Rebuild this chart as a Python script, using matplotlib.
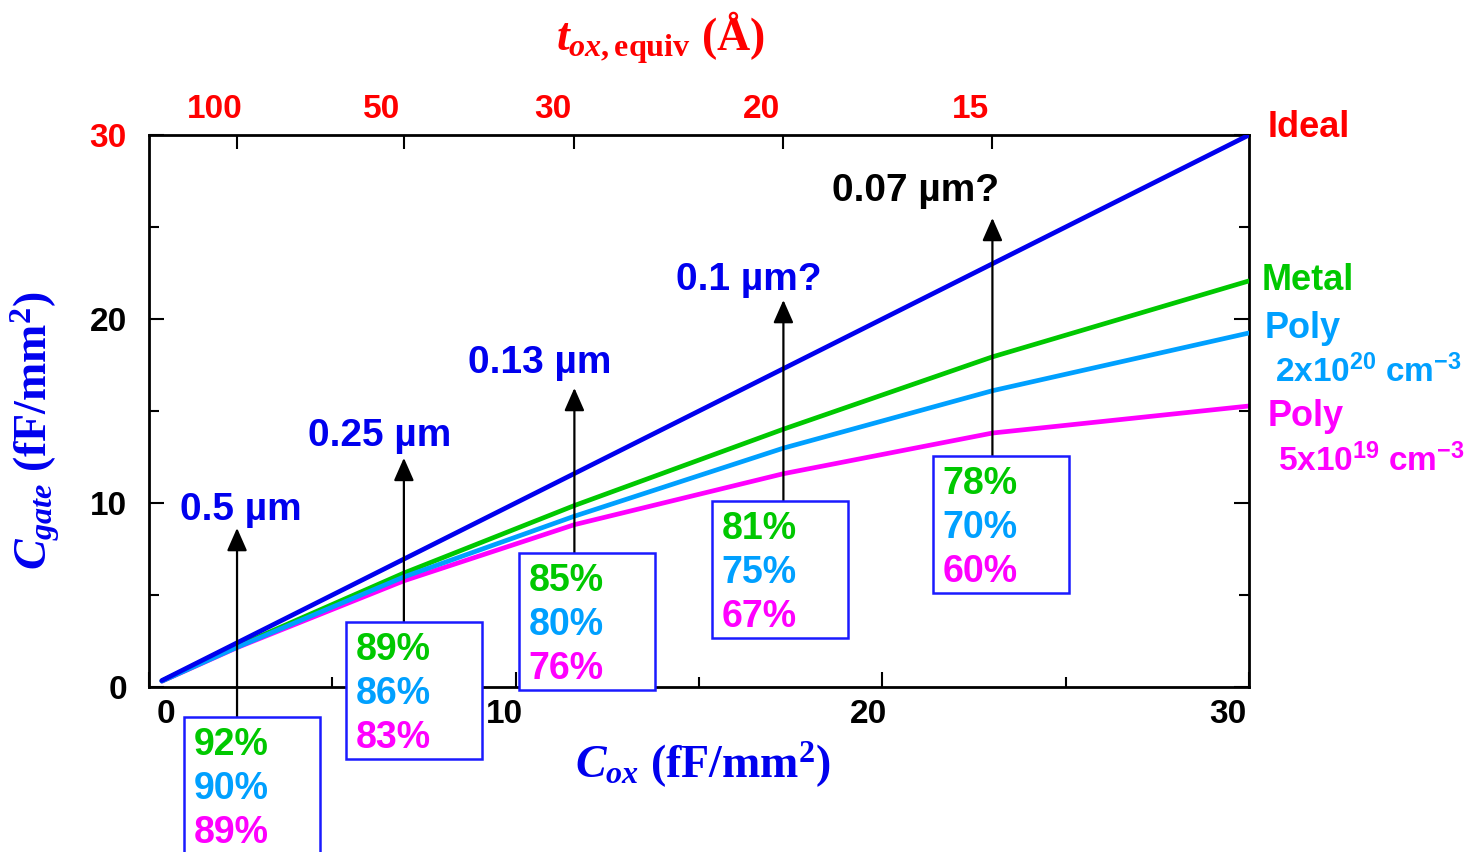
import matplotlib
matplotlib.use("Agg")
import matplotlib.pyplot as plt
from matplotlib.patches import Rectangle
from matplotlib.transforms import ScaledTranslation

plt.rcParams["font.family"] = ["Liberation Sans", "DejaVu Sans"]
plt.rcParams["font.weight"] = "bold"
plt.rcParams["mathtext.fontset"] = "custom"
plt.rcParams["mathtext.rm"] = "Liberation Serif:bold"
plt.rcParams["mathtext.it"] = "Liberation Serif:italic:bold"
plt.rcParams["mathtext.bf"] = "Liberation Serif:bold"
plt.rcParams["mathtext.sf"] = "Liberation Sans:bold"

# --- data ---
c_ox = [0.35, 2.4, 6.95, 11.6, 17.3, 23.0, 30.0]          # fF/mm^2
c_ideal = [0.35, 2.4, 6.95, 11.6, 17.3, 23.0, 30.0]
c_metal = [0.33, 2.21, 6.19, 9.86, 14.01, 17.94, 22.07]
c_poly_hi = [0.32, 2.16, 5.98, 9.28, 12.98, 16.10, 19.24]  # 2x10^20 cm^-3
c_poly_lo = [0.31, 2.14, 5.77, 8.82, 11.59, 13.80, 15.27]  # 5x10^19 cm^-3

node_labels = ["0.5 µm", "0.25 µm", "0.13 µm", "0.1 µm?", "0.07 µm?"]
node_cox = [2.4, 6.95, 11.6, 17.3, 23.0]
pct_metal = [92, 89, 85, 81, 78]
pct_poly_hi = [90, 86, 80, 75, 70]
pct_poly_lo = [89, 83, 76, 67, 60]

tox_labels = ["100", "50", "30", "20", "15"]   # Angstrom, at node_cox

# --- layout (data units) ---
node_text_xy = [(0.85, 9.62), (4.34, 13.64), (8.70, 17.6), (14.37, 22.1), (18.63, 26.96)]
node_text_col = ["#0000ee", "#0000ee", "#0000ee", "#0000ee", "black"]
arrow_tip_y = [8.64, 12.45, 16.25, 21.03, 25.49]
box_left = [0.95, 5.37, 10.09, 15.35, 21.38]
box_top = [-1.63, 3.53, 7.28, 10.11, 12.55]
BOX_W, BOX_H = 3.71, 7.45

BLUE = "#0000ee"
GREEN = "#00c800"
SKY = "#00a0ff"
MAGENTA = "#ff00ff"
RED = "#ff0000"

fig = plt.figure(figsize=(14.77, 8.52), dpi=100)
ax = fig.add_axes([0.1009, 0.1937, 0.7448, 0.6479])
ax.set_xlim(0, 30)
ax.set_ylim(0, 30)

lw = 3.4
ax.plot(c_ox, c_ideal, color=BLUE, lw=lw, zorder=4, solid_capstyle="round")
ax.plot(c_ox, c_metal, color=GREEN, lw=lw, zorder=3, solid_capstyle="round")
ax.plot(c_ox, c_poly_hi, color=SKY, lw=lw, zorder=3, solid_capstyle="round")
ax.plot(c_ox, c_poly_lo, color=MAGENTA, lw=lw, zorder=2, solid_capstyle="round")

for sp in ax.spines.values():
    sp.set_linewidth(2)

# ticks
ax.set_xticks([0, 10, 20, 30])
ax.set_xticks([5, 15, 25], minor=True)
ax.set_yticks([0, 10, 20, 30])
ax.set_yticks([5, 15, 25], minor=True)
ax.tick_params(which="both", direction="in", top=False, right=True, width=1.5)
ax.tick_params(which="major", length=11)
ax.tick_params(which="minor", length=7)
ax.tick_params(axis="x", labelsize=24, pad=9)
ax.tick_params(axis="y", labelsize=24, pad=16)
ax.get_yticklabels()[3].set_color(RED)
for lbl, dx in zip(ax.get_xticklabels(), [17, -11, -14, -21]):
    lbl.set_transform(lbl.get_transform() + ScaledTranslation(dx / 100, 0, fig.dpi_scale_trans))

# top axis: equivalent oxide thickness
ax_top = ax.twiny()
ax_top.set_xlim(0, 30)
ax_top.set_xticks(node_cox)
ax_top.set_xticklabels(tox_labels)
ax_top.tick_params(axis="x", direction="in", length=10, width=1.5, labelsize=24,
                   labelcolor=RED, pad=7)
for sp in ax_top.spines.values():
    sp.set_visible(False)
for i, t in enumerate(ax_top.xaxis.get_major_ticks()):
    t.tick2line.set_color("black" if i == 0 else BLUE)
for lbl in ax_top.get_xticklabels():
    lbl.set_transform(lbl.get_transform() + ScaledTranslation(-0.22, 0, fig.dpi_scale_trans))

# axis titles
fig.text(0.476, 0.102, r"$C_{ox}$ (fF/mm$^{2}$)", color=BLUE, fontsize=33,
         family="Liberation Serif", ha="center", va="center")
fig.text(0.447, 0.955, r"$t_{ox,\mathrm{equiv}}$ (Å)", color=RED, fontsize=33,
         family="Liberation Serif", ha="center", va="center")
fig.text(0.024, 0.495, r"$C_{gate}$ (fF/mm$^{2}$)", color=BLUE, fontsize=33,
         family="Liberation Serif", ha="center", va="center", rotation=90)

# curve labels on the right
ax.text(30.5, 30.4, "Ideal", color=RED, fontsize=26, va="center", clip_on=False)
ax.text(30.35, 22.1, "Metal", color=GREEN, fontsize=26, va="center", clip_on=False)
ax.text(30.43, 19.5, "Poly", color=SKY, fontsize=26, va="center", clip_on=False)
ax.text(30.7, 17.1, r"$\mathsf{2x10^{20}\ cm^{-3}}$", color=SKY, fontsize=24,
        va="center", clip_on=False)
ax.text(30.5, 14.7, "Poly", color=MAGENTA, fontsize=26, va="center", clip_on=False)
ax.text(30.8, 12.3, r"$\mathsf{5x10^{19}\ cm^{-3}}$", color=MAGENTA, fontsize=24,
        va="center", clip_on=False)

# technology nodes: label, arrow, and ratio box
for i, name in enumerate(node_labels):
    tx, ty = node_text_xy[i]
    ax.text(tx, ty, name, color=node_text_col[i], fontsize=28, va="center",
            clip_on=False, zorder=6)
    ax.annotate("", xy=(node_cox[i], arrow_tip_y[i]), xytext=(node_cox[i], box_top[i]),
                arrowprops=dict(arrowstyle="-|>,head_length=0.5,head_width=0.22",
                                color="black", lw=1.6, mutation_scale=28,
                                shrinkA=0, shrinkB=0),
                annotation_clip=False, zorder=6)
    ax.add_patch(Rectangle((box_left[i], box_top[i] - BOX_H), BOX_W, BOX_H,
                           facecolor="white", edgecolor="#1a1aff", lw=1.8,
                           clip_on=False, zorder=7))
    for j, (val, col) in enumerate(zip([pct_metal[i], pct_poly_hi[i], pct_poly_lo[i]],
                                       [GREEN, SKY, MAGENTA])):
        ax.annotate(f"{val}%", xy=(box_left[i], box_top[i]), xytext=(7, -20 - 31.7 * j),
                    textcoords="offset points", color=col, fontsize=27, va="center",
                    annotation_clip=False, zorder=8)

fig.savefig("out.png", dpi=100)
